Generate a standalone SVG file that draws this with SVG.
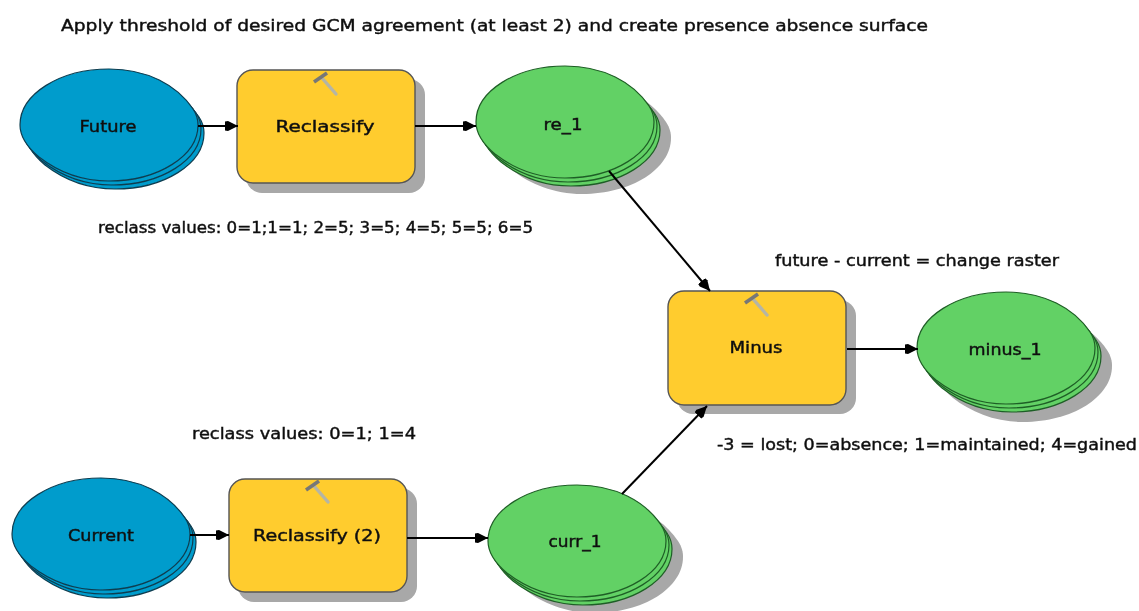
<svg xmlns="http://www.w3.org/2000/svg" width="1139" height="611" viewBox="0 0 1139 611">
<defs>
<marker id="ah" markerUnits="userSpaceOnUse" markerWidth="14" markerHeight="12" refX="13" refY="6" orient="auto"><path d="M0 1.5L3 1L13 6L3 11L0 10.5Z" fill="#000"/></marker>
<filter id="soft" x="-5%" y="-5%" width="110%" height="110%"><feGaussianBlur stdDeviation="0.55"/></filter>
<filter id="tb" x="-5%" y="-30%" width="110%" height="160%"><feGaussianBlur stdDeviation="0.5"/></filter>
<path id="lens" d="M-89 0C-89 -31 -49 -56 0 -56C38 -56 68 -40 84 -16C88 -10 89 -5 89 0C89 31 49 56 0 56C-28 56 -52 46 -70 32C-82 22 -89 12 -89 0Z"/>
<g id="hammer"><path d="M-4 -7L10 9" stroke="#b5b5a5" stroke-width="3.4" stroke-linecap="round"/><path d="M-12 -3L1 -12" stroke="#777" stroke-width="3.6" fill="none"/></g>
</defs>
<style>
text{font-family:"DejaVu Sans","Liberation Sans",sans-serif;font-size:16.5px;fill:#111;stroke:#111;stroke-width:.45}
.c{text-anchor:middle}
.t{fill:#ffcc2e;stroke:#555;stroke-width:1.4}
.sh{fill:#a8a8a8;stroke:none}
.b{fill:#009ccc;stroke:#0d3d50;stroke-width:1.2}
.g{fill:#62d165;stroke:#1f5e26;stroke-width:1.2}
.l{fill:none;stroke:#000;stroke-width:2;marker-end:url(#ah)}
</style>
<rect width="1139" height="611" fill="#fff"/>
<g id="notes" filter="url(#tb)">
<text x="61" y="31" textLength="867" lengthAdjust="spacingAndGlyphs">Apply threshold of desired GCM agreement (at least 2) and create presence absence surface</text>
<text x="98" y="233" textLength="435" lengthAdjust="spacingAndGlyphs">reclass values: 0=1;1=1; 2=5; 3=5; 4=5; 5=5; 6=5</text>
<text x="775" y="266" textLength="284" lengthAdjust="spacingAndGlyphs">future - current = change raster</text>
<text x="192" y="439" textLength="224" lengthAdjust="spacingAndGlyphs">reclass values: 0=1; 1=4</text>
<text x="717" y="450" textLength="420" lengthAdjust="spacingAndGlyphs">-3 = lost; 0=absence; 1=maintained; 4=gained</text>
</g>
<g id="node-future" filter="url(#soft)">
<use href="#lens" class="b" x="115" y="133"/><use href="#lens" class="b" x="112" y="129"/><use href="#lens" class="b" x="109" y="125"/>
<text class="c" x="108" y="132" textLength="57" lengthAdjust="spacingAndGlyphs">Future</text>
</g>
<g id="node-reclassify" filter="url(#soft)">
<rect class="sh" x="246" y="79" width="179" height="114" rx="16"/>
<rect class="t" x="237" y="70" width="178" height="113" rx="16"/>
<use href="#hammer" x="326" y="85"/>
<text class="c" x="325" y="132" textLength="99" lengthAdjust="spacingAndGlyphs">Reclassify</text>
</g>
<g id="node-re_1" filter="url(#soft)">
<use href="#lens" class="sh" x="582" y="138"/>
<use href="#lens" class="g" x="571" y="130"/><use href="#lens" class="g" x="568" y="126"/><use href="#lens" class="g" x="565" y="122"/>
<text class="c" x="563" y="130" textLength="39" lengthAdjust="spacingAndGlyphs">re_1</text>
</g>
<g id="node-minus" filter="url(#soft)">
<rect class="sh" x="677" y="300" width="179" height="114" rx="16"/>
<rect class="t" x="668" y="291" width="178" height="114" rx="16"/>
<use href="#hammer" x="757" y="306"/>
<text class="c" x="756" y="353" textLength="53" lengthAdjust="spacingAndGlyphs">Minus</text>
</g>
<g id="node-minus_1" filter="url(#soft)">
<use href="#lens" class="sh" x="1023" y="366"/>
<use href="#lens" class="g" x="1012" y="356"/><use href="#lens" class="g" x="1009" y="352"/><use href="#lens" class="g" x="1006" y="348"/>
<text class="c" x="1005" y="355" textLength="73" lengthAdjust="spacingAndGlyphs">minus_1</text>
</g>
<g id="node-current" filter="url(#soft)">
<use href="#lens" class="b" x="107" y="542"/><use href="#lens" class="b" x="104" y="538"/><use href="#lens" class="b" x="101" y="534"/>
<text class="c" x="101" y="541" textLength="66" lengthAdjust="spacingAndGlyphs">Current</text>
</g>
<g id="node-reclassify2" filter="url(#soft)">
<rect class="sh" x="238" y="488" width="179" height="114" rx="16"/>
<rect class="t" x="229" y="479" width="178" height="113" rx="16"/>
<use href="#hammer" x="318" y="493"/>
<text class="c" x="317" y="541" textLength="128" lengthAdjust="spacingAndGlyphs">Reclassify (2)</text>
</g>
<g id="node-curr_1" filter="url(#soft)">
<use href="#lens" class="sh" x="594" y="557"/>
<use href="#lens" class="g" x="583" y="549"/><use href="#lens" class="g" x="580" y="545"/><use href="#lens" class="g" x="577" y="541"/>
<text class="c" x="575" y="547" textLength="53" lengthAdjust="spacingAndGlyphs">curr_1</text>
</g>
<g id="connectors" filter="url(#soft)">
<path class="l" d="M198 126H238"/>
<path class="l" d="M415 126H476"/>
<path class="l" d="M609 171L710 291"/>
<path class="l" d="M847 349H918"/>
<path class="l" d="M190 535H229"/>
<path class="l" d="M407 538H488"/>
<path class="l" d="M622 494L707 406"/>
</g>
</svg>
